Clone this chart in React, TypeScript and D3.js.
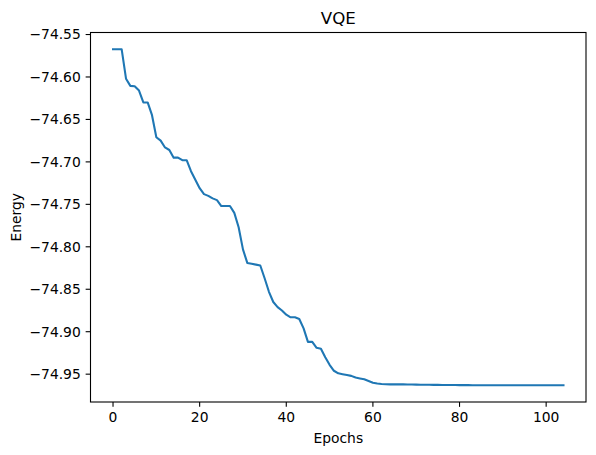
import React from 'react';
import * as d3 from 'd3';

// energy per epoch
const energy: number[] = [
  -74.5674, -74.5674, -74.5674, -74.602, -74.6105, -74.611, -74.616, -74.630, -74.630, -74.645,
  -74.671, -74.675, -74.683, -74.686, -74.695, -74.695, -74.698, -74.698, -74.711, -74.721,
  -74.731, -74.738, -74.740, -74.743, -74.745, -74.752, -74.752, -74.752, -74.760, -74.777,
  -74.803, -74.819, -74.820, -74.821, -74.822, -74.837, -74.853, -74.865, -74.871, -74.875,
  -74.880, -74.883, -74.883, -74.885, -74.896, -74.912, -74.912, -74.919, -74.920, -74.930,
  -74.939, -74.946, -74.949, -74.950, -74.951, -74.952, -74.954, -74.955, -74.956, -74.958,
  -74.960, -74.961, -74.9615, -74.9618, -74.962, -74.962, -74.962, -74.962, -74.9621, -74.9622,
  -74.9623, -74.9624, -74.9625, -74.9625, -74.9626, -74.9626, -74.9627, -74.9627, -74.9628, -74.9628,
  -74.9629, -74.9629, -74.9629, -74.963, -74.963, -74.963, -74.963, -74.963, -74.963, -74.963,
  -74.963, -74.963, -74.963, -74.963, -74.963, -74.963, -74.963, -74.963, -74.963, -74.963,
  -74.963, -74.963, -74.963, -74.963, -74.963,
];
const epochs: number[] = energy.map((_, i) => i);

const xTicks = [0, 20, 40, 60, 80, 100];
const yTicks = [-74.95, -74.9, -74.85, -74.8, -74.75, -74.7, -74.65, -74.6, -74.55];

const title = 'VQE';
const xLabel = 'Epochs';
const yLabel = 'Energy';

const W = 596;
const H = 455;
const margin = { left: 90.5, right: 10, top: 32.5, bottom: 53 };
const font = 'DejaVu Sans, sans-serif';

const pad = (lo: number, hi: number): [number, number] => {
  const d = (hi - lo) * 0.05;
  return [lo - d, hi + d];
};

const fmt = (v: number) => d3.format('.2f')(v).replace('-', '\u2212');

const App: React.FC = () => {
  const [xMin, xMax] = d3.extent(epochs) as [number, number];
  const [yMin, yMax] = d3.extent(energy) as [number, number];

  const x = d3.scaleLinear().domain(pad(xMin, xMax)).range([margin.left, W - margin.right]);
  const y = d3.scaleLinear().domain(pad(yMin, yMax)).range([H - margin.bottom, margin.top]);

  const line = d3
    .line<number>()
    .x((_, i) => x(epochs[i]))
    .y((d) => y(d));

  const left = margin.left;
  const right = W - margin.right;
  const top = margin.top;
  const bottom = H - margin.bottom;
  const tick = 4.86;

  return (
    <svg width={W} height={H} style={{ position: 'absolute', left: 0, top: 0 }}>
      <rect width={W} height={H} fill="#fff" />
      <path d={line(energy) ?? ''} fill="none" stroke="#1f77b4" strokeWidth={2.08} strokeLinejoin="round" strokeLinecap="square" />
      <rect x={left} y={top} width={right - left} height={bottom - top} fill="none" stroke="#000" strokeWidth={1.1} />

      {xTicks.map((t) => (
        <g key={t} transform={`translate(${x(t)},${bottom})`}>
          <line y2={tick} stroke="#000" strokeWidth={1.1} />
          <text y={tick + 4.86 + 10.5} textAnchor="middle" fontFamily={font} fontSize={13.89} fill="#000">
            {t}
          </text>
        </g>
      ))}

      {yTicks.map((t) => (
        <g key={t} transform={`translate(${left},${y(t)})`}>
          <line x2={-tick} stroke="#000" strokeWidth={1.1} />
          <text x={-tick - 4.86} dy="0.35em" textAnchor="end" fontFamily={font} fontSize={13.89} fill="#000">
            {fmt(t)}
          </text>
        </g>
      ))}

      <text x={(left + right) / 2} y={top - 8.3} textAnchor="middle" fontFamily={font} fontSize={16.67} fill="#000">
        {title}
      </text>
      <text x={(left + right) / 2} y={443} textAnchor="middle" fontFamily={font} fontSize={13.89} fill="#000">
        {xLabel}
      </text>
      <text
        transform={`translate(21,${(top + bottom) / 2}) rotate(-90)`}
        textAnchor="middle"
        fontFamily={font}
        fontSize={13.89}
        fill="#000"
      >
        {yLabel}
      </text>
    </svg>
  );
};

export default App;
